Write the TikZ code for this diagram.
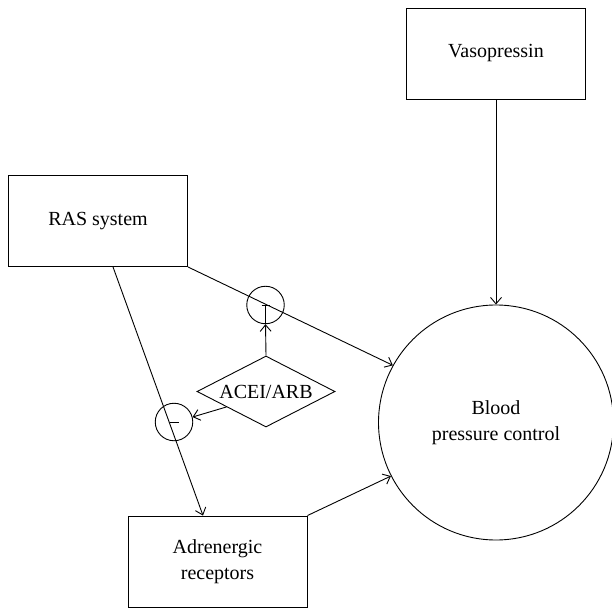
\documentclass[tikz,border=0pt]{standalone}
\usepackage{fontspec}
\setmainfont{Liberation Serif}
\usetikzlibrary{shapes.geometric,arrows.meta,calc}
\begin{document}
\begin{tikzpicture}[x=1pt,y=-1pt,
  every node/.style={font=\fontsize{20}{26}\selectfont},
  boxnode/.style={draw,line width=0.9pt,minimum width=179pt,minimum height=91pt,inner sep=0pt,align=center},
  bigcirc/.style={draw,line width=0.9pt,circle,minimum size=235pt,inner sep=0pt,align=center},
  smallcirc/.style={draw,line width=0.9pt,circle,minimum size=37.5pt,inner sep=0pt},
  dia/.style={draw,line width=0.9pt,diamond,aspect=1.94,minimum width=138pt,minimum height=71pt,inner sep=0pt},
  link/.style={line width=0.9pt},
  arr/.style={line width=0.9pt,-{Straight Barb[length=6.5pt,width=11pt]}}]
\useasboundingbox (0,0) rectangle (611,612);
\node[boxnode] (vaso) at (496,53.5) {Vasopressin};
\node[boxnode] (ras) at (98,221) {RAS system};
\node[boxnode] (adr) at (217.5,561.5) {Adrenergic\\receptors};
\node[bigcirc] (bp) at (496,422.5) {Blood\\pressure control};
\node[dia] (acei) at (266,391.5) {ACEI/ARB};
\node[smallcirc] (c1) at (265.5,305) {};
\node[smallcirc] (c2) at (174,422) {};
\coordinate (rasout) at ([xshift=15pt]ras.south);
\coordinate (adrin) at ([xshift=-14.5pt]adr.north);
\coordinate (aceiout) at ($(acei.west)!0.43!(acei.south)$);
\draw[arr] (vaso) -- (bp);
\draw[arr] (ras.south east) -- (bp.151);
\draw[arr] (rasout) -- (adrin);
\draw[arr] (adr.north east) -- (bp.207);
\draw[arr] (acei.north) -- (c1.south);
\draw[link] (c1.south) -- (c1.center);
\draw[link] ([xshift=-4pt]c1.center) -- ([xshift=4pt]c1.center);
\draw[arr] (aceiout) -- (c2.15);
\draw[link] ([xshift=-4.5pt]c2.center) -- ([xshift=4.5pt]c2.center);
\end{tikzpicture}
\end{document}
